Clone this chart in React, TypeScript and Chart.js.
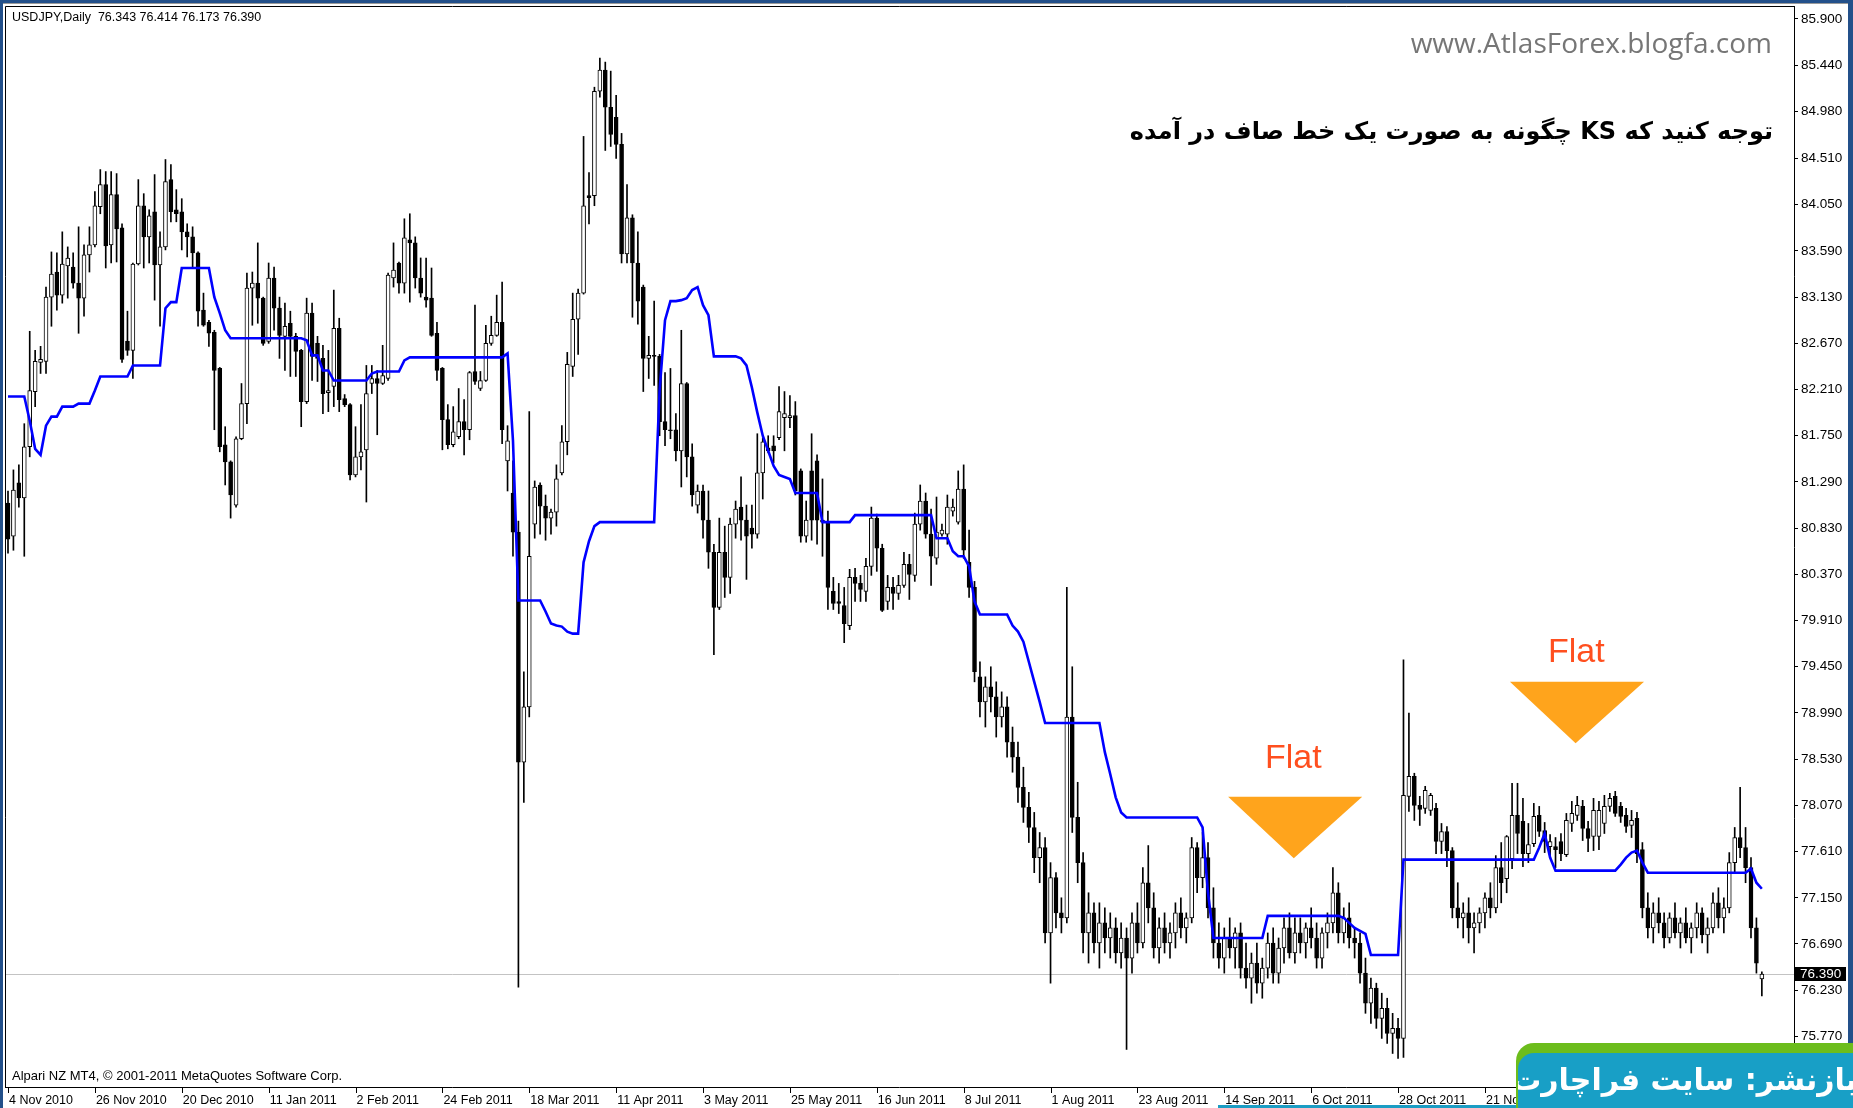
import React, { useEffect, useRef } from 'react';
import { Chart, registerables } from 'chart.js';

Chart.register(...registerables);

// ---------- data (USDJPY daily) ----------
const opens = [
  81.08, 80.75, 81.28, 81.13, 81.64, 82.19, 82.48, 82.49, 83.13, 83.38,
  83.15, 83.44, 83.43, 83.27, 83.12, 83.55, 83.65, 84.03, 84.25, 83.65,
  84.15, 83.82, 82.69, 82.60, 83.46, 84.04, 83.73, 83.98, 83.45, 83.63,
  84.30, 84.00, 83.98, 83.78, 83.73, 83.57, 83.00, 82.88, 82.78, 82.42,
  81.66, 81.49, 81.06, 81.72, 82.07, 83.22, 83.27, 83.12, 82.69, 83.32,
  83.02, 82.74, 82.87, 82.74, 82.60, 82.09, 82.97, 82.67, 82.52, 82.18,
  82.24, 82.82, 82.12, 82.06, 81.36, 81.54, 81.61, 82.27, 82.32, 82.27,
  82.32, 83.32, 83.47, 83.27, 83.70, 83.67, 83.32, 83.13, 83.12, 82.77,
  82.42, 81.91, 81.66, 81.74, 81.89, 81.81, 82.39, 82.22, 82.30, 82.67,
  82.75, 82.88, 81.50, 81.18, 80.79, 78.50, 79.05, 80.87, 81.26, 81.05,
  80.93, 80.99, 81.38, 81.69, 82.44, 82.91, 83.17, 84.14, 84.14, 85.18,
  85.39, 85.02, 84.92, 84.65, 83.56, 83.92, 83.47, 83.23, 82.52, 82.55,
  82.54, 81.89, 81.81, 81.81, 81.60, 82.27, 81.54, 81.06, 81.20, 80.91,
  80.59, 80.04, 80.59, 80.34, 80.87, 81.04, 80.91, 80.83, 80.77, 81.38,
  81.63, 81.65, 81.73, 81.93, 81.93, 81.95, 81.40, 80.75, 81.40, 81.50,
  80.91, 80.89, 80.20, 80.10, 80.06, 79.86, 80.34, 80.28, 80.20, 80.45,
  80.93, 80.63, 80.10, 80.24, 80.18, 80.26, 80.47, 80.36, 80.87, 81.10,
  80.77, 80.53, 80.77, 80.77, 81.00, 80.89, 81.22, 80.49, 80.24, 79.35,
  79.10, 79.25, 79.15, 78.95, 79.05, 78.70, 78.55, 78.25, 78.05, 77.85,
  77.55, 77.65, 76.80, 77.35, 77.00, 76.95, 78.95, 77.95, 77.50, 76.80,
  77.00, 76.70, 76.90, 76.75, 76.85, 76.60, 76.75, 76.55, 76.90, 76.70,
  77.30, 77.05, 76.65, 76.85, 76.70, 76.80, 77.00, 76.85, 76.95, 77.65,
  77.35, 77.55, 77.05, 76.70, 76.55, 76.75, 76.65, 76.80, 76.45, 76.35,
  76.50, 76.30, 76.45, 76.70, 76.40, 76.65, 76.85, 76.60, 76.80, 76.70,
  76.85, 76.75, 76.55, 76.80, 76.90, 77.20, 76.80, 76.95, 76.75, 76.70,
  76.40, 76.10, 76.25, 75.95, 76.05, 75.80, 75.85, 75.75, 78.16, 78.36,
  78.07, 78.04, 78.02, 78.04, 77.71, 77.81, 77.62, 77.05, 76.95, 77.00,
  76.85, 76.90, 77.00, 77.15, 77.05, 77.45, 77.34, 77.54, 77.97, 77.91,
  77.59, 77.69, 77.97, 77.82, 77.66, 77.66, 77.71, 77.58, 77.89, 77.97,
  78.06, 77.84, 77.76, 77.76, 77.89, 78.06, 78.16, 78.06, 77.97, 77.87,
  77.94, 77.63, 77.05, 76.85, 77.00, 76.90, 76.75, 76.95, 76.80, 76.90,
  76.75, 76.85, 77.00, 76.78, 76.85, 77.10, 76.95, 77.05, 77.50, 77.75,
  77.65, 77.45, 76.85, 76.343,
];

const highs = [
  81.20, 81.41, 81.46, 81.87, 82.79, 82.60, 82.64, 83.23, 83.58, 83.57,
  83.78, 83.63, 83.57, 83.83, 83.65, 83.83, 84.18, 84.40, 84.38, 84.38,
  84.36, 83.86, 82.99, 83.47, 84.30, 84.16, 84.00, 84.35, 83.78, 84.50,
  84.45, 84.20, 84.11, 83.86, 83.83, 83.58, 83.17, 82.90, 82.80, 82.43,
  81.84, 81.50, 81.74, 82.27, 83.37, 83.38, 83.67, 83.13, 83.47, 83.43,
  83.13, 83.07, 82.99, 82.77, 82.61, 83.12, 83.07, 82.74, 82.65, 82.60,
  83.20, 82.92, 82.16, 82.07, 81.84, 82.06, 82.45, 82.45, 82.40, 82.65,
  83.37, 83.67, 83.48, 83.91, 83.96, 83.73, 83.52, 83.52, 83.42, 82.88,
  82.43, 82.06, 82.04, 82.22, 82.11, 82.39, 83.05, 82.39, 82.85, 82.94,
  83.15, 83.28, 81.85, 81.50, 80.90, 79.40, 81.99, 81.30, 81.28, 81.16,
  81.02, 81.46, 81.85, 82.58, 83.17, 83.21, 84.73, 84.37, 85.22, 85.51,
  85.47, 85.38, 85.14, 84.76, 84.25, 83.95, 83.78, 83.25, 82.74, 83.09,
  82.56, 82.38, 82.42, 81.97, 82.80, 82.28, 81.67, 81.26, 81.26, 81.20,
  80.67, 80.93, 80.85, 80.93, 81.10, 81.34, 81.06, 81.06, 81.77, 81.73,
  81.75, 81.75, 82.24, 82.19, 82.15, 82.09, 81.42, 81.10, 81.77, 81.56,
  81.32, 81.00, 80.34, 80.28, 80.24, 80.42, 80.43, 80.36, 80.53, 81.04,
  80.97, 80.67, 80.36, 80.34, 80.36, 80.59, 80.57, 80.98, 81.26, 81.18,
  81.02, 81.14, 80.87, 81.16, 81.12, 81.40, 81.46, 80.81, 80.30, 79.50,
  79.35, 79.45, 79.30, 79.20, 79.15, 78.85, 78.70, 78.45, 78.20, 78.00,
  77.80, 77.75, 77.50, 77.40, 77.15, 80.24, 79.45, 78.30, 77.60, 77.20,
  77.10, 77.10, 77.05, 77.00, 76.95, 76.90, 76.85, 77.00, 77.10, 77.45,
  77.67, 77.20, 76.95, 77.00, 76.90, 77.10, 77.15, 77.00, 77.75, 77.70,
  77.80, 77.70, 77.25, 76.90, 76.85, 76.95, 76.85, 76.90, 76.70, 76.60,
  76.70, 76.55, 76.80, 76.85, 76.75, 76.95, 77.00, 76.95, 76.95, 76.90,
  77.05, 76.90, 76.85, 77.00, 77.45, 77.30, 77.05, 77.10, 76.85, 76.80,
  76.55, 76.35, 76.30, 76.20, 76.15, 76.00, 75.95, 79.52, 78.99, 78.39,
  78.16, 78.26, 78.19, 78.09, 77.89, 77.86, 77.65, 77.30, 77.10, 77.15,
  77.00, 77.05, 77.20, 77.30, 77.57, 77.70, 77.77, 78.29, 78.29, 78.14,
  77.89, 78.09, 78.06, 77.90, 77.78, 77.75, 77.79, 77.99, 78.11, 78.16,
  78.12, 77.91, 78.14, 78.11, 78.17, 78.19, 78.21, 78.10, 78.04, 78.02,
  78.00, 77.70, 77.20, 77.10, 77.15, 77.00, 77.00, 77.10, 76.95, 77.05,
  76.90, 77.10, 77.05, 76.95, 77.20, 77.25, 77.15, 77.60, 77.85, 78.25,
  77.85, 77.55, 76.95, 76.414,
];

const lows = [
  80.58, 80.61, 81.04, 80.55, 81.54, 82.04, 82.37, 82.37, 82.84, 83.00,
  83.07, 83.12, 83.22, 82.77, 82.94, 83.38, 83.63, 83.96, 83.42, 83.47,
  83.48, 82.48, 82.55, 82.32, 83.45, 83.42, 83.47, 83.10, 82.84, 83.60,
  83.88, 83.88, 83.60, 83.53, 83.43, 82.84, 82.84, 82.64, 81.81, 81.59,
  81.26, 80.93, 81.04, 81.71, 81.87, 82.85, 82.87, 82.65, 82.67, 82.80,
  82.52, 82.40, 82.34, 82.34, 81.84, 82.07, 82.30, 82.29, 81.97, 81.99,
  82.04, 81.99, 82.04, 81.31, 81.34, 81.41, 81.09, 82.17, 81.76, 82.26,
  82.30, 83.23, 83.17, 83.17, 83.08, 83.22, 83.13, 83.03, 82.74, 82.30,
  81.61, 81.62, 81.64, 81.72, 81.56, 81.71, 82.26, 82.20, 82.29, 82.65,
  82.74, 81.67, 81.20, 80.55, 76.26, 78.10, 78.95, 80.73, 80.77, 80.71,
  80.77, 80.85, 81.36, 81.56, 82.34, 82.56, 83.16, 83.86, 84.04, 85.12,
  84.59, 84.63, 84.51, 83.47, 83.47, 82.93, 82.86, 82.19, 82.32, 82.25,
  81.75, 81.65, 81.72, 81.50, 81.24, 81.34, 81.05, 80.98, 80.73, 80.43,
  79.57, 80.02, 80.14, 80.18, 80.73, 80.71, 80.32, 80.63, 80.73, 81.12,
  81.58, 81.48, 81.71, 81.60, 81.83, 81.16, 80.69, 80.69, 80.71, 80.67,
  80.55, 80.02, 80.02, 79.98, 79.69, 79.82, 80.10, 80.10, 80.10, 80.36,
  80.40, 80.00, 80.02, 80.02, 80.12, 80.24, 80.12, 80.30, 80.81, 80.73,
  80.26, 80.47, 80.75, 80.67, 80.95, 80.87, 80.53, 80.14, 79.30, 78.95,
  78.85, 79.00, 78.75, 78.85, 78.55, 78.40, 78.10, 77.90, 77.70, 77.40,
  77.30, 76.70, 76.30, 76.85, 76.80, 76.90, 77.80, 77.30, 76.60, 76.50,
  76.60, 76.45, 76.60, 76.55, 76.50, 76.45, 75.64, 76.40, 76.60, 76.65,
  76.90, 76.55, 76.50, 76.60, 76.55, 76.65, 76.75, 76.70, 76.90, 77.20,
  77.25, 76.95, 76.55, 76.45, 76.40, 76.55, 76.45, 76.35, 76.25, 76.10,
  76.20, 76.15, 76.35, 76.30, 76.30, 76.50, 76.55, 76.50, 76.60, 76.55,
  76.65, 76.45, 76.45, 76.65, 76.80, 76.70, 76.70, 76.65, 76.55, 76.30,
  76.00, 75.90, 75.85, 75.75, 75.70, 75.60, 75.55, 75.56, 78.01, 77.92,
  77.87, 77.99, 77.97, 77.59, 77.59, 77.46, 76.95, 76.85, 76.75, 76.70,
  76.60, 76.80, 76.85, 76.95, 77.00, 77.10, 77.20, 77.44, 77.59, 77.46,
  77.50, 77.66, 77.76, 77.60, 77.55, 77.45, 77.52, 77.56, 77.81, 77.92,
  77.72, 77.61, 77.62, 77.63, 77.79, 78.01, 77.96, 77.90, 77.80, 77.75,
  77.50, 76.95, 76.75, 76.70, 76.80, 76.65, 76.70, 76.75, 76.65, 76.70,
  76.60, 76.75, 76.70, 76.60, 76.80, 76.85, 76.80, 77.00, 77.40, 77.55,
  77.30, 76.75, 76.40, 76.173,
];

const closes = [
  80.72, 81.21, 81.13, 81.64, 82.20, 82.49, 82.51, 83.13, 83.36, 83.15,
  83.46, 83.52, 83.27, 83.12, 83.55, 83.65, 84.04, 84.25, 83.64, 84.15,
  83.81, 82.51, 82.60, 83.46, 84.04, 83.73, 83.94, 83.45, 83.63, 84.28,
  83.98, 83.96, 83.78, 83.73, 83.57, 82.99, 82.85, 82.77, 82.40, 81.64,
  81.49, 81.16, 81.72, 82.07, 83.22, 83.27, 83.12, 82.67, 83.32, 83.02,
  82.75, 82.84, 82.74, 82.59, 82.09, 82.97, 82.54, 82.52, 82.17, 82.20,
  82.82, 82.11, 82.06, 81.36, 81.54, 81.59, 82.17, 82.32, 82.27, 82.35,
  83.35, 83.40, 83.27, 83.72, 83.67, 83.32, 83.17, 83.10, 82.75, 82.40,
  81.91, 81.66, 81.79, 81.89, 81.81, 82.38, 82.29, 82.30, 82.67, 82.75,
  82.88, 81.81, 81.70, 80.79, 78.50, 79.05, 80.55, 81.24, 81.05, 80.93,
  80.99, 81.32, 81.69, 82.46, 82.91, 83.17, 84.04, 84.12, 85.18, 85.39,
  85.02, 84.75, 84.65, 83.56, 83.92, 83.47, 83.09, 82.52, 82.55, 82.54,
  81.89, 81.81, 81.80, 81.60, 82.27, 81.54, 81.16, 81.20, 80.91, 80.59,
  80.04, 80.59, 80.34, 80.87, 81.02, 80.91, 80.75, 80.77, 81.38, 81.69,
  81.60, 81.60, 81.99, 81.97, 81.95, 81.20, 80.75, 80.91, 80.91, 80.91,
  80.89, 80.24, 80.08, 80.08, 79.88, 80.34, 80.28, 80.22, 80.45, 80.93,
  80.63, 80.01, 80.24, 80.18, 80.26, 80.47, 80.37, 80.87, 81.10, 80.77,
  80.55, 80.79, 80.81, 81.04, 81.04, 81.22, 80.61, 80.24, 79.40, 79.10,
  79.25, 79.15, 78.95, 79.05, 78.70, 78.55, 78.25, 78.05, 77.85, 77.55,
  77.65, 76.80, 77.35, 77.00, 76.95, 78.95, 77.95, 77.50, 76.80, 77.00,
  76.70, 76.90, 76.75, 76.85, 76.60, 76.75, 76.55, 76.90, 76.70, 77.30,
  77.05, 76.65, 76.85, 76.70, 76.80, 77.00, 76.85, 76.95, 77.65, 77.35,
  77.55, 77.05, 76.70, 76.55, 76.75, 76.65, 76.80, 76.45, 76.35, 76.50,
  76.30, 76.45, 76.70, 76.40, 76.65, 76.85, 76.60, 76.80, 76.70, 76.85,
  76.75, 76.55, 76.80, 76.90, 77.20, 76.80, 76.95, 76.75, 76.70, 76.40,
  76.10, 76.25, 75.95, 76.05, 75.80, 75.85, 75.75, 78.17, 78.36, 78.07,
  78.03, 78.22, 78.17, 77.71, 77.81, 77.62, 77.05, 76.95, 77.00, 76.85,
  76.90, 77.00, 77.15, 77.05, 77.45, 77.30, 77.76, 77.97, 77.79, 77.59,
  77.68, 77.96, 77.81, 77.71, 77.71, 77.63, 77.59, 77.92, 77.99, 78.07,
  77.84, 77.74, 78.02, 78.02, 78.06, 78.14, 77.99, 77.96, 77.86, 77.92,
  77.59, 77.05, 76.85, 77.00, 76.90, 76.75, 76.95, 76.80, 76.90, 76.75,
  76.85, 77.00, 76.78, 76.85, 77.10, 76.95, 77.05, 77.50, 77.75, 77.65,
  77.45, 76.85, 76.50, 76.390,
];

// Kijun-sen (KS) line, one value per bar
const kijun = [
  82.14, 82.14, 82.14, 82.14, 81.90, 81.62, 81.56, 81.85, 81.94, 81.94,
  82.04, 82.04, 82.04, 82.07, 82.07, 82.07, 82.20, 82.34, 82.34, 82.34,
  82.34, 82.34, 82.34, 82.45, 82.45, 82.45, 82.45, 82.45, 82.45, 83.02,
  83.08, 83.08, 83.42, 83.42, 83.42, 83.42, 83.42, 83.42, 83.13, 82.97,
  82.80, 82.72, 82.72, 82.72, 82.72, 82.72, 82.72, 82.72, 82.72, 82.72,
  82.72, 82.72, 82.72, 82.72, 82.72, 82.70, 82.55, 82.55, 82.40, 82.40,
  82.30, 82.30, 82.30, 82.30, 82.30, 82.30, 82.30, 82.37, 82.39, 82.39,
  82.39, 82.39, 82.39, 82.50, 82.53, 82.53, 82.53, 82.53, 82.53, 82.53,
  82.53, 82.53, 82.53, 82.53, 82.53, 82.53, 82.53, 82.53, 82.53, 82.53,
  82.53, 82.53, 82.57, 81.70, 80.11, 80.11, 80.11, 80.11, 80.11, 80.00,
  79.88, 79.86, 79.85, 79.80, 79.78, 79.78, 80.49, 80.70, 80.85, 80.89,
  80.89, 80.89, 80.89, 80.89, 80.89, 80.89, 80.89, 80.89, 80.89, 80.89,
  82.20, 82.90, 83.09, 83.09, 83.10, 83.12, 83.20, 83.23, 83.05, 82.95,
  82.54, 82.54, 82.54, 82.54, 82.54, 82.52, 82.45, 82.23, 81.98, 81.75,
  81.60, 81.45, 81.36, 81.34, 81.32, 81.18, 81.18, 81.18, 81.18, 81.18,
  80.89, 80.89, 80.89, 80.89, 80.89, 80.89, 80.96, 80.96, 80.96, 80.96,
  80.96, 80.96, 80.96, 80.96, 80.96, 80.96, 80.96, 80.96, 80.96, 80.96,
  80.96, 80.73, 80.73, 80.73, 80.60, 80.55, 80.55, 80.45, 80.10, 79.97,
  79.97, 79.97, 79.97, 79.97, 79.97, 79.86, 79.80, 79.70, 79.50, 79.30,
  79.10, 78.89, 78.89, 78.89, 78.89, 78.89, 78.89, 78.89, 78.89, 78.89,
  78.89, 78.89, 78.60, 78.38, 78.15, 78.00, 77.95, 77.95, 77.95, 77.95,
  77.95, 77.95, 77.95, 77.95, 77.95, 77.95, 77.95, 77.95, 77.95, 77.95,
  77.85, 77.20, 76.75, 76.75, 76.75, 76.75, 76.75, 76.75, 76.75, 76.75,
  76.75, 76.75, 76.97, 76.97, 76.97, 76.97, 76.97, 76.97, 76.97, 76.97,
  76.97, 76.97, 76.97, 76.97, 76.97, 76.97, 76.95, 76.90, 76.85, 76.82,
  76.79, 76.58, 76.58, 76.58, 76.58, 76.58, 76.58, 77.53, 77.53, 77.53,
  77.53, 77.53, 77.53, 77.53, 77.53, 77.53, 77.53, 77.53, 77.53, 77.53,
  77.53, 77.53, 77.53, 77.53, 77.53, 77.53, 77.53, 77.53, 77.53, 77.53,
  77.53, 77.53, 77.65, 77.79, 77.55, 77.42, 77.42, 77.42, 77.42, 77.42,
  77.42, 77.42, 77.42, 77.42, 77.42, 77.42, 77.42, 77.48, 77.55, 77.60,
  77.62, 77.50, 77.40, 77.40, 77.40, 77.40, 77.40, 77.40, 77.40, 77.40,
  77.40, 77.40, 77.40, 77.40, 77.40, 77.40, 77.40, 77.40, 77.40, 77.40,
  77.40, 77.44, 77.30, 77.24,
];

// price scale tick values (right axis)
const priceTicks = [
  85.9, 85.44, 84.98, 84.51, 84.05, 83.59, 83.13, 82.67, 82.21, 81.75, 81.29, 80.83,
  80.37, 79.91, 79.45, 78.99, 78.53, 78.07, 77.61, 77.15, 76.69, 76.23, 75.77,
];

// time scale labels, one every 16 bars
const dateLabels = [
  '4 Nov 2010', '26 Nov 2010', '20 Dec 2010', '11 Jan 2011', '2 Feb 2011', '24 Feb 2011',
  '18 Mar 2011', '11 Apr 2011', '3 May 2011', '25 May 2011', '16 Jun 2011', '8 Jul 2011',
  '1 Aug 2011', '23 Aug 2011', '14 Sep 2011', '6 Oct 2011', '28 Oct 2011', '21 Nov 2011',
  '13 Dec 2011', '4 Jan 2012', '26 Jan 2012',
];
const dateLabelStep = 16;

// "Flat" arrow annotations (bar index / price units)
const flatMarks = [
  { left: 224.7, right: 249.4, apex: 236.8, top: 78.157, tip: 77.543 },
  { left: 276.6, right: 301.3, apex: 288.7, top: 79.302, tip: 78.688 },
];

const Y_MIN = 75.2563;
const Y_MAX = 86.0284;
const X_MIN = -0.5525;
const X_MAX = 328.92;

const FONT = '"Liberation Sans", Arial, sans-serif';

const mt4Plugin = {
  id: 'mt4Decor',
  beforeDatasetsDraw(chart: any) {
    const { ctx, chartArea: a, scales } = chart;
    const y = scales.y;
    const py = Math.round(y.getPixelForValue(closes[closes.length - 1])) + 0.5;
    ctx.save();
    ctx.strokeStyle = '#c3c3c3';
    ctx.lineWidth = 1;
    ctx.beginPath();
    ctx.moveTo(a.left, py);
    ctx.lineTo(a.right, py);
    ctx.stroke();
    ctx.restore();
  },
  afterDatasetsDraw(chart: any) {
    const { ctx, scales } = chart;
    const x = scales.x;
    const y = scales.y;
    ctx.save();
    ctx.fillStyle = '#ffa41c';
    flatMarks.forEach((m) => {
      ctx.beginPath();
      ctx.moveTo(x.getPixelForValue(m.left), y.getPixelForValue(m.top));
      ctx.lineTo(x.getPixelForValue(m.right), y.getPixelForValue(m.top));
      ctx.lineTo(x.getPixelForValue(m.apex), y.getPixelForValue(m.tip));
      ctx.closePath();
      ctx.fill();
    });
    ctx.restore();
  },
  afterDraw(chart: any) {
    const { ctx, chartArea: a, scales } = chart;
    const x = scales.x;
    const y = scales.y;
    ctx.save();
    // frame
    ctx.strokeStyle = '#000';
    ctx.lineWidth = 1;
    ctx.beginPath();
    ctx.moveTo(a.left + 0.5, a.bottom - 0.5);
    ctx.lineTo(a.left + 0.5, a.top + 0.5);
    ctx.lineTo(a.right, a.top + 0.5);
    ctx.moveTo(a.left, a.bottom - 0.5);
    ctx.lineTo(a.right, a.bottom - 0.5);
    ctx.stroke();
    // time axis
    ctx.font = `12.5px ${FONT}`;
    ctx.fillStyle = '#000';
    ctx.textAlign = 'left';
    ctx.textBaseline = 'alphabetic';
    dateLabels.forEach((lab, k) => {
      const px = x.getPixelForValue(k * dateLabelStep);
      const tx = Math.round(px) + 0.5;
      ctx.beginPath();
      ctx.moveTo(tx, a.bottom);
      ctx.lineTo(tx, a.bottom + 5);
      ctx.stroke();
      ctx.fillText(lab, px + 1, a.bottom + 16);
    });
    // current price box
    const last = closes[closes.length - 1];
    const py = y.getPixelForValue(last);
    ctx.fillStyle = '#000';
    ctx.fillRect(a.right + 1, Math.round(py) - 7, 51, 14);
    ctx.fillStyle = '#fff';
    ctx.font = `13.5px ${FONT}`;
    ctx.textBaseline = 'middle';
    ctx.fillText(last.toFixed(3), a.right + 6, Math.round(py) + 0.5);
    ctx.restore();
  },
};

export default function App() {
  const ref = useRef<HTMLCanvasElement>(null);

  useEffect(() => {
    document.body.style.margin = '0';
    const bodyColors = opens.map((o, i) => (closes[i] >= o ? '#ffffff' : '#000000'));
    const chart = new Chart(ref.current as HTMLCanvasElement, {
      type: 'bar',
      data: {
        datasets: [
          {
            type: 'line',
            label: 'KS',
            data: kijun.map((v, i) => ({ x: i, y: v })),
            borderColor: '#0000ff',
            borderWidth: 2.6,
            pointRadius: 0,
            tension: 0,
            order: 0,
          } as any,
          {
            label: 'body',
            data: opens.map((o, i) => ({ x: i, y: [o, closes[i]] })),
            backgroundColor: bodyColors,
            borderColor: '#000000',
            borderWidth: 1,
            borderSkipped: false,
            barThickness: 4,
            minBarLength: 1,
            grouped: false,
            order: 1,
          } as any,
          {
            label: 'wick',
            data: lows.map((l, i) => ({ x: i, y: [l, highs[i]] })),
            backgroundColor: '#000000',
            borderWidth: 0,
            barThickness: 1,
            grouped: false,
            order: 2,
          } as any,
        ],
      },
      options: {
        responsive: false,
        animation: false,
        devicePixelRatio: 1,
        events: [],
        layout: { padding: { left: 5, top: 6, right: 0, bottom: 20 } },
        plugins: { legend: { display: false }, tooltip: { enabled: false } },
        scales: {
          x: {
            type: 'linear',
            display: false,
            min: X_MIN,
            max: X_MAX,
            offset: false,
          },
          y: {
            type: 'linear',
            position: 'right',
            min: Y_MIN,
            max: Y_MAX,
            afterBuildTicks: (s: any) => {
              s.ticks = priceTicks.map((v) => ({ value: v }));
            },
            afterFit: (s: any) => {
              s.width = 59;
              s.paddingTop = 0;
              s.paddingBottom = 0;
            },
            ticks: {
              autoSkip: false,
              padding: 3,
              color: '#000',
              font: { family: FONT, size: 13.5 },
              callback: (v: any) => Number(v).toFixed(3),
            },
            grid: { drawOnChartArea: false, drawTicks: true, tickLength: 4, color: '#000' },
            border: { display: true, color: '#000' },
          },
        },
      } as any,
      plugins: [mt4Plugin],
    });
    return () => chart.destroy();
  }, []);

  const n = closes.length - 1;
  const header = `USDJPY,Daily  ${opens[n].toFixed(3)} ${highs[n].toFixed(3)} ${lows[n].toFixed(3)} ${closes[n].toFixed(3)}`;

  return (
    <div style={{ position: 'absolute', left: 0, top: 0, width: 1853, height: 1108, background: '#23508a', overflow: 'hidden' }}>
      <div style={{ position: 'absolute', left: 3, top: 3, width: 1845, height: 1105, background: '#ffffff', borderTop: '1px solid #9a9a9a', boxSizing: 'border-box' }} />
      <canvas ref={ref} width={1853} height={1108} style={{ position: 'absolute', left: 0, top: 0, width: 1853, height: 1108 }} />
      <div style={{ position: 'absolute', left: 12, top: 11, font: `12.5px ${FONT}`, lineHeight: '12.5px', whiteSpace: 'pre', color: '#000' }}>{header}</div>
      <div style={{ position: 'absolute', right: 81, top: 28, font: '28px "Open Sans", sans-serif', lineHeight: '28px', color: '#767676', whiteSpace: 'nowrap' }}>www.AtlasForex.blogfa.com</div>
      <div dir="rtl" style={{ position: 'absolute', right: 80, top: 119, font: 'bold 24px "DejaVu Sans", sans-serif', lineHeight: '24px', color: '#000', whiteSpace: 'nowrap' }}>توجه کنید که KS چگونه به صورت یک خط صاف در آمده</div>
      <div style={{ position: 'absolute', left: 1265, top: 739, font: `34px ${FONT}`, lineHeight: '34px', color: '#ff4f1f' }}>Flat</div>
      <div style={{ position: 'absolute', left: 1548, top: 633, font: `34px ${FONT}`, lineHeight: '34px', color: '#ff4f1f' }}>Flat</div>
      <div style={{ position: 'absolute', left: 12, top: 1069, font: `13px ${FONT}`, lineHeight: '13px', color: '#000', whiteSpace: 'nowrap' }}>Alpari NZ MT4, © 2001-2011 MetaQuotes Software Corp.</div>
      <div style={{ position: 'absolute', left: 1218, top: 1105, width: 310, height: 3, background: '#1a9dc4' }} />
      <div style={{ position: 'absolute', left: 1516, top: 1043, width: 345, height: 70, background: '#6cbd1c', borderTopLeftRadius: 18 }} />
      <div style={{ position: 'absolute', left: 1518, top: 1053, width: 345, height: 60, background: '#189fc6', borderTopLeftRadius: 16, overflow: 'hidden' }}>
        <div dir="rtl" style={{ position: 'absolute', right: 6, top: 10, font: 'bold 30px "DejaVu Sans", sans-serif', lineHeight: '34px', color: '#ffffff', whiteSpace: 'nowrap' }}>بازنشر: سایت فراچارت</div>
      </div>
    </div>
  );
}
